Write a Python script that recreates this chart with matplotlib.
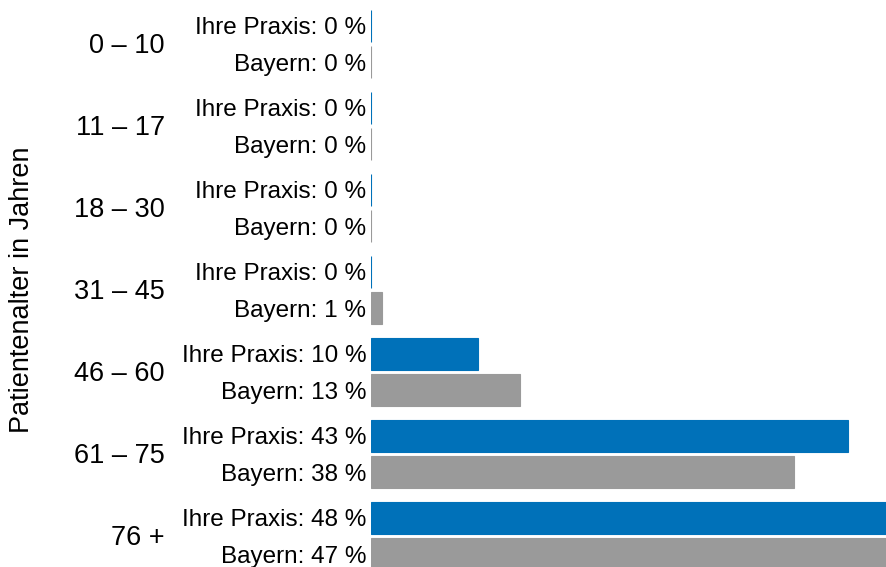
import numpy as np
import matplotlib.pyplot as plt
from matplotlib.transforms import blended_transform_factory

plt.rcParams["font.family"] = ["Liberation Sans", "DejaVu Sans"]

AGE_GROUPS = ["0 – 10", "11 – 17", "18 – 30", "31 – 45", "46 – 60", "61 – 75", "76 +"]
PRAXIS = [0, 0, 0, 0, 9.6, 43.0, 48.0]
BAYERN = [0, 0, 0, 0.95, 13.4, 38.1, 47.0]
PRAXIS_LABELS = [0, 0, 0, 0, 10, 43, 48]
BAYERN_LABELS = [0, 0, 0, 1, 13, 38, 47]

BLUE = "#0071B9"
GREY = "#9A9A9A"

fig = plt.figure(figsize=(8.87, 5.67), dpi=100)
ax = fig.add_axes([371 / 887, 0, 1 - 371 / 887, 1])

y = np.arange(len(AGE_GROUPS))
off = 0.22
h = 0.39

ax.barh(y - off, PRAXIS, height=h, color=BLUE, edgecolor=BLUE, linewidth=0.8)
ax.barh(y + off, BAYERN, height=h, color=GREY, edgecolor=GREY, linewidth=0.8)

ax.set_xlim(0, 46.5)
ax.set_ylim(6.378, -0.537)

ticks = np.concatenate([y - off, y + off])
labels = [f"Ihre Praxis: {v} %" for v in PRAXIS_LABELS] + [f"Bayern: {v} %" for v in BAYERN_LABELS]
ax.set_yticks(ticks)
ax.set_yticklabels(labels, fontsize=17.5)
ax.tick_params(axis="y", length=0, pad=3.5)
ax.set_xticks([])
for s in ax.spines.values():
    s.set_visible(False)

trans = blended_transform_factory(fig.transFigure, ax.transData)
for i, name in enumerate(AGE_GROUPS):
    ax.text(165 / 887, i + 0.02, name, transform=trans, ha="right", va="center", fontsize=19.5)

fig.text(22 / 887, 0.489, "Patientenalter in Jahren", rotation=90, ha="center", va="center", fontsize=19.5)

fig.savefig("out.png", dpi=100)
